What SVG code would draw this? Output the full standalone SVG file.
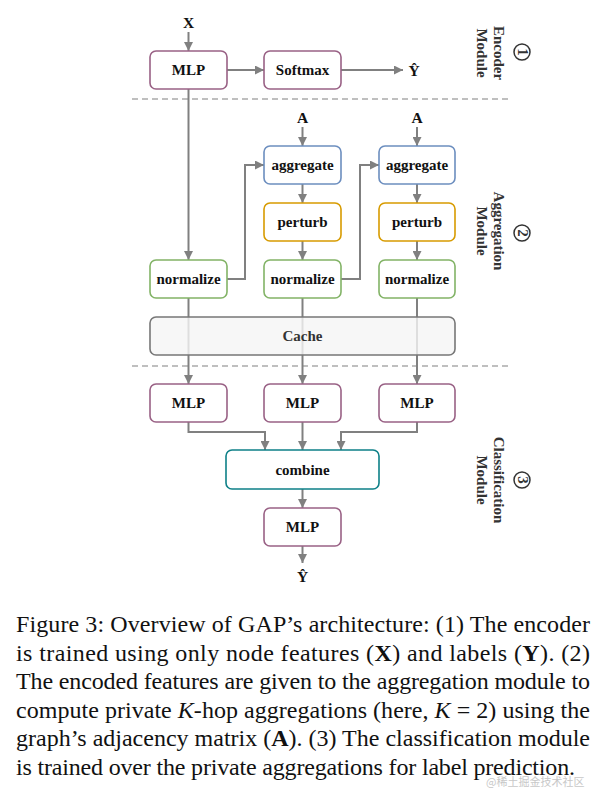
<svg xmlns="http://www.w3.org/2000/svg" width="598" height="788" viewBox="0 0 598 788">
<style>
.node rect{stroke-width:1.6}
.lbl{font-family:"Liberation Serif","Times New Roman",serif;font-weight:bold;font-size:15px;fill:#111;text-anchor:middle;dominant-baseline:central}
.mlp rect{fill:#fff;stroke:#996185}
.agg rect{fill:#fff;stroke:#6c8ebf}
.per rect{fill:#fff;stroke:#d79b00}
.nor rect{fill:#fff;stroke:#82b366}
.cache rect{fill:#f5f5f5;fill-opacity:0.8;stroke:#777}
.comb rect{fill:#fff;stroke:#0e8088}
.edge{fill:none;stroke:#808080;stroke-width:2;marker-end:url(#ah)}
.dash{stroke:#aaa;stroke-width:1.6;stroke-dasharray:6 4}
.mod{font-family:"Liberation Serif","Times New Roman",serif;font-weight:bold;font-size:15px;fill:#333;text-anchor:middle}
.cap{font-family:"Liberation Serif","Times New Roman",serif;font-size:24px;fill:#111}
.io{font-family:"Liberation Serif","Times New Roman",serif;font-weight:bold;font-size:15.5px;fill:#111;text-anchor:middle}
</style>
<defs>
<marker id="ah" markerUnits="userSpaceOnUse" markerWidth="9" markerHeight="9" refX="9" refY="4.5" orient="auto">
<path d="M0,0 L9,4.5 L0,9 z" fill="#808080"/>
</marker>
</defs>

<!-- separators -->
<line class="dash" x1="132" y1="99" x2="512" y2="99"/>
<line class="dash" x1="132" y1="366" x2="512" y2="366"/>

<g id="connectors">
<path class="edge" d="M188.5,32 V51"/>
<path class="edge" d="M227,70 H264"/>
<path class="edge" d="M341,70 H403"/>
<path class="edge" d="M188.5,89 V260"/>
<path class="edge" d="M302.5,127 V146"/>
<path class="edge" d="M417,127 V146"/>
<path class="edge" d="M227,279 H245 V165 H264"/>
<path class="edge" d="M341,279 H360 V165 H379"/>
<path class="edge" d="M302.5,184 V203"/>
<path class="edge" d="M417,184 V203"/>
<path class="edge" d="M302.5,241 V260"/>
<path class="edge" d="M417,241 V260"/>
<path class="edge" d="M188.5,298 V384"/>
<path class="edge" d="M302.5,298 V384"/>
<path class="edge" d="M417,298 V384"/>
<path class="edge" d="M188.5,422 V432 H265 V450"/>
<path class="edge" d="M302.5,422 V450"/>
<path class="edge" d="M417,422 V432 H341 V450"/>
<path class="edge" d="M302.5,489 V508"/>
<path class="edge" d="M302.5,546 V563"/>
</g>

<g id="cache" class="node cache"><rect x="150" y="317" width="305" height="38" rx="6"/><text class="lbl" x="302.5" y="336" style="fill:#333">Cache</text></g>

<text class="io" x="188.5" y="28">X</text>
<text class="io" x="302.5" y="123">A</text>
<text class="io" x="417" y="123">A</text>
<text class="io" x="414" y="76">Ŷ</text>
<text class="io" x="302.5" y="582">Ŷ</text>

<g id="mlp_enc" class="node mlp"><rect x="150" y="51" width="77" height="38" rx="6"/><text class="lbl" x="188.5" y="70">MLP</text></g>
<g id="softmax" class="node mlp"><rect x="264" y="51" width="77" height="38" rx="6"/><text class="lbl" x="302.5" y="70">Softmax</text></g>

<g id="aggregate1" class="node agg"><rect x="264" y="146" width="77" height="38" rx="6"/><text class="lbl" x="302.5" y="165">aggregate</text></g>
<g id="aggregate2" class="node agg"><rect x="379" y="146" width="76" height="38" rx="6"/><text class="lbl" x="417" y="165">aggregate</text></g>
<g id="perturb1" class="node per"><rect x="264" y="203" width="77" height="38" rx="6"/><text class="lbl" x="302.5" y="222">perturb</text></g>
<g id="perturb2" class="node per"><rect x="379" y="203" width="76" height="38" rx="6"/><text class="lbl" x="417" y="222">perturb</text></g>
<g id="normalize0" class="node nor"><rect x="150" y="260" width="77" height="38" rx="6"/><text class="lbl" x="188.5" y="279">normalize</text></g>
<g id="normalize1" class="node nor"><rect x="264" y="260" width="77" height="38" rx="6"/><text class="lbl" x="302.5" y="279">normalize</text></g>
<g id="normalize2" class="node nor"><rect x="379" y="260" width="76" height="38" rx="6"/><text class="lbl" x="417" y="279">normalize</text></g>

<g id="mlp0" class="node mlp"><rect x="150" y="384" width="77" height="38" rx="6"/><text class="lbl" x="188.5" y="403">MLP</text></g>
<g id="mlp1" class="node mlp"><rect x="264" y="384" width="77" height="38" rx="6"/><text class="lbl" x="302.5" y="403">MLP</text></g>
<g id="mlp2" class="node mlp"><rect x="379" y="384" width="76" height="38" rx="6"/><text class="lbl" x="417" y="403">MLP</text></g>
<g id="combine" class="node comb"><rect x="226" y="450" width="153" height="39" rx="6"/><text class="lbl" x="302.5" y="469.5">combine</text></g>
<g id="mlp_out" class="node mlp"><rect x="264" y="508" width="77" height="38" rx="6"/><text class="lbl" x="302.5" y="527">MLP</text></g>

<!-- module labels -->
<g id="module1">
<circle cx="522" cy="52" r="8" fill="none" stroke="#333" stroke-width="1.5"/>
<text class="mod" transform="translate(522,52) rotate(90)" y="4.5" font-size="12">1</text>
<text class="mod" transform="translate(494,53) rotate(90)">Encoder</text>
<text class="mod" transform="translate(477,53) rotate(90)">Module</text>
</g>
<g id="module2">
<circle cx="522" cy="233" r="8" fill="none" stroke="#333" stroke-width="1.5"/>
<text class="mod" transform="translate(522,233) rotate(90)" y="4.5" font-size="12">2</text>
<text class="mod" transform="translate(494,231) rotate(90)">Aggregation</text>
<text class="mod" transform="translate(477,231) rotate(90)">Module</text>
</g>
<g id="module3">
<circle cx="522" cy="480" r="8" fill="none" stroke="#333" stroke-width="1.5"/>
<text class="mod" transform="translate(522,480) rotate(90)" y="4.5" font-size="12">3</text>
<text class="mod" transform="translate(494,480) rotate(90)">Classification</text>
<text class="mod" transform="translate(477,480) rotate(90)">Module</text>
</g>

<!-- caption -->
<text class="cap" x="16" y="632" textLength="574" lengthAdjust="spacing">Figure 3: Overview of GAP’s architecture: (1) The encoder</text>
<text class="cap" x="16" y="660.5" textLength="574" lengthAdjust="spacing">is trained using only node features (<tspan font-weight="bold">X</tspan>) and labels (<tspan font-weight="bold">Y</tspan>). (2)</text>
<text class="cap" x="16" y="689" textLength="574" lengthAdjust="spacing">The encoded features are given to the aggregation module to</text>
<text class="cap" x="16" y="717.5" textLength="574" lengthAdjust="spacing">compute private <tspan font-style="italic">K</tspan>-hop aggregations (here, <tspan font-style="italic">K</tspan> = 2) using the</text>
<text class="cap" x="16" y="746" textLength="574" lengthAdjust="spacing">graph’s adjacency matrix (<tspan font-weight="bold">A</tspan>). (3) The classification module</text>
<text class="cap" x="16" y="774.5" textLength="559" lengthAdjust="spacing">is trained over the private aggregations for label prediction.</text>
<text x="486" y="786" font-family="'Noto Sans CJK SC',sans-serif" font-size="11" fill="#c8c8c8">@稀土掘金技术社区</text>
</svg>
